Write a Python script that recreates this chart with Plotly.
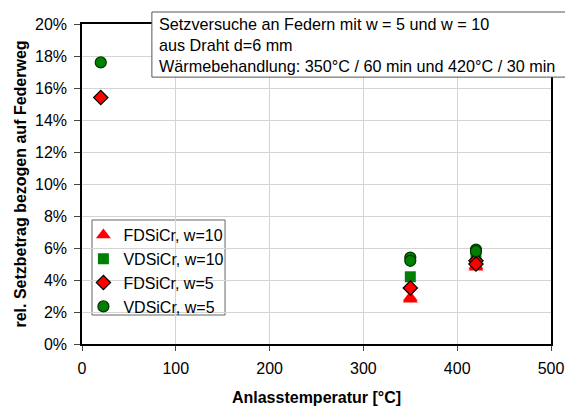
import plotly.graph_objects as go

# Anlasstemperatur [°C] und rel. Setzbetrag [%] je Werkstoff / Windungsverhältnis
fd10_temp = [350, 350, 420, 420]
fd10_val = [2.8, 2.9, 4.8, 4.9]

vd10_temp = [350, 420]
vd10_val = [4.2, 5.6]

fd5_temp = [20, 350, 420, 420]
fd5_val = [15.4, 3.5, 5.2, 5.0]

vd5_temp = [20, 350, 350, 420, 420]
vd5_val = [17.6, 5.4, 5.2, 5.9, 5.8]

y_ticks = [0, 2, 4, 6, 8, 10, 12, 14, 16, 18, 20]
x_ticks = [0, 100, 200, 300, 400, 500]

FONT = "Arial, Liberation Sans, sans-serif"

fig = go.Figure()
fig.add_trace(go.Scatter(
    x=fd10_temp, y=[v / 100 for v in fd10_val], mode="markers",
    name="FDSiCr, w=10",
    marker=dict(symbol="triangle-up", size=13, color="#ff0000",
                line=dict(width=0))))
fig.add_trace(go.Scatter(
    x=vd10_temp, y=[v / 100 for v in vd10_val], mode="markers",
    name="VDSiCr, w=10",
    marker=dict(symbol="square", size=11, color="#008000",
                line=dict(width=0))))
fig.add_trace(go.Scatter(
    x=fd5_temp, y=[v / 100 for v in fd5_val], mode="markers",
    name="FDSiCr, w=5",
    marker=dict(symbol="diamond", size=11, color="#ff0000",
                line=dict(width=1.2, color="#000000"))))
fig.add_trace(go.Scatter(
    x=vd5_temp, y=[v / 100 for v in vd5_val], mode="markers",
    name="VDSiCr, w=5",
    marker=dict(symbol="circle", size=11, color="#008000",
                line=dict(width=1.2, color="#003300"))))

# Legend frame
fig.add_shape(
    type="rect", xref="paper", yref="paper",
    x0=0.0213, x1=0.305, y0=0.0906, y1=0.3875,
    fillcolor="white", line=dict(color="#666666", width=1), layer="between")

# Info box (frame drawn as a shape so it may run past the right edge)
fig.add_shape(
    type="rect", xref="paper", yref="paper",
    x0=0.149, x1=1.06, y0=0.834, y1=1.0375,
    fillcolor="white", line=dict(color="#555555", width=1), layer="above")
fig.add_annotation(
    xref="paper", yref="paper", x=0.163, y=1.03,
    xanchor="left", yanchor="top", align="left",
    text="Setzversuche an Federn mit w = 5 und w = 10<br>"
         "aus Draht d=6 mm<br>"
         "Wärmebehandlung: 350°C / 60 min und 420°C / 30 min",
    showarrow=False, borderpad=0,
    font=dict(family=FONT, size=16.2, color="black"))

fig.update_layout(
    width=565, height=410,
    margin=dict(l=82, r=14, t=24, b=66, autoexpand=False),
    paper_bgcolor="white", plot_bgcolor="white",
    font=dict(family=FONT, size=16, color="black"),
    showlegend=True,
    legend=dict(
        x=0.003, y=0.3935, xanchor="left", yanchor="top",
        bgcolor="rgba(0,0,0,0)", borderwidth=0,
        font=dict(family=FONT, size=16), tracegroupgap=0,
        itemwidth=30, itemsizing="trace"),
    xaxis=dict(
        range=[0, 500], tickvals=x_ticks, ticktext=[str(t) for t in x_ticks],
        showgrid=True, gridcolor="#d4d4d4", gridwidth=1,
        showline=True, linecolor="black", linewidth=1.5, mirror=True,
        ticks="outside", ticklen=5, tickcolor="#444444",
        ticklabelstandoff=4, automargin=False,
        zeroline=False,
        title=dict(text="<b>Anlasstemperatur [°C]</b>",
                   font=dict(family=FONT, size=16), standoff=16)),
    yaxis=dict(
        range=[0, 0.20], tickvals=[t / 100 for t in y_ticks],
        ticktext=[f"{t}%" for t in y_ticks],
        showgrid=True, gridcolor="#d4d4d4", gridwidth=1,
        showline=True, linecolor="black", linewidth=1.5, mirror=True,
        ticks="outside", ticklen=6, tickcolor="#444444",
        ticklabelstandoff=4, automargin=False,
        zeroline=False,
        title=dict(text="<b>rel. Setzbetrag bezogen auf Federweg</b>",
                   font=dict(family=FONT, size=16), standoff=4)),
)

fig.write_html("out.html")
